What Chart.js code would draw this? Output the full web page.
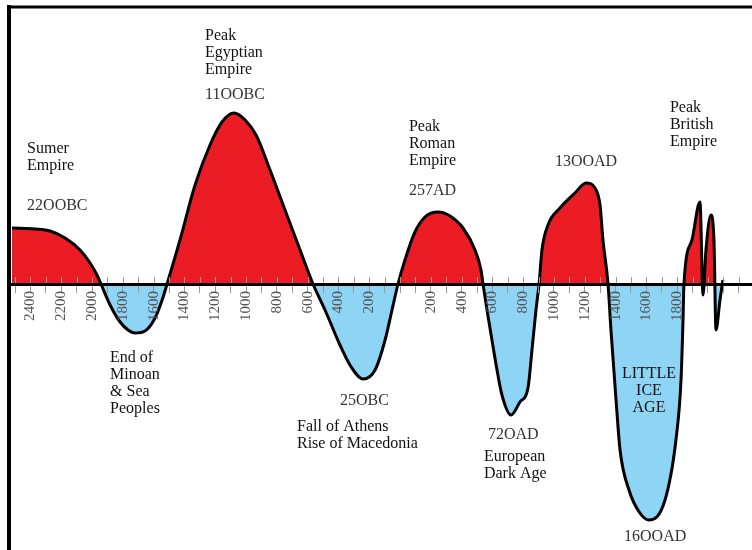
<!DOCTYPE html>
<html>
<head>
<meta charset="utf-8">
<script src="https://cdn.jsdelivr.net/npm/chart.js@4.4.1/dist/chart.umd.min.js"></script>
<style>
  html, body { margin: 0; padding: 0; background: #fff; overflow: hidden; }
  canvas { display: block; }
</style>
</head>
<body>
<canvas id="chart" width="752" height="550"></canvas>
<script>
// years (BC negative) and the relative value
const years = [-2520, -2370, -2273, -2175, -2078, -2013, -1968, -1942, -1883, -1818, -1766, -1721, -1656, -1591, -1545, -1513,
  -1429, -1331, -1234, -1156, -1078, -1006, -935, -844, -747, -649, -565,
  -487, -390, -325, -240, -162, -97, -52, -13,
  32, 97, 162, 247, 325, 409, 487, 526, 539,
  565, 597, 630, 662, 721, 779, 831, 857, 883, 903,
  922, 961, 1039, 1136, 1208, 1266, 1299, 1318, 1351,
  1370, 1403, 1429, 1487, 1558, 1617, 1721, 1792, 1825, 1838, 1844,
  1896, 1948, 1968, 1987, 2019, 2039, 2052, 2078, 2097];
const values = [56, 55, 53, 46, 34, 21, 9, 0, -21, -38, -46, -49, -47, -34, -16, 0,
  44, 99, 139, 162, 171, 164, 149, 114, 74, 34, 0,
  -26, -61, -81, -95, -86, -56, -26, 0,
  24, 52, 67, 72, 68, 56, 34, 14, 0,
  -26, -56, -86, -111, -131, -118, -104, -66, -26, 0,
  34, 59, 76, 91, 101, 96, 79, 44, 0,
  -46, -116, -166, -206, -229, -236, -216, -156, -96, -36, 0,
  44, 82, -11, 34, 69, 44, -46, -16, 4];

// tick marks every century, labels every two
const tickYears = [-2500, -2400, -2300, -2200, -2100, -2000, -1900, -1800, -1700, -1600, -1500, -1400, -1300,
  -1200, -1100, -1000, -900, -800, -700, -600, -500, -400, -300, -200, -100, 0,
  100, 200, 300, 400, 500, 600, 700, 800, 900, 1000, 1100, 1200, 1300, 1400, 1500, 1600, 1700,
  1800, 1900, 2000, 2100, 2200];
const labelYears = [-2400, -2200, -2000, -1800, -1600, -1400, -1200, -1000, -800, -600, -400, -200,
  200, 400, 600, 800, 1000, 1200, 1400, 1600, 1800];

// notes: text lines anchored at (year, value)
const notes = [
  { lines: ["Sumer", "Empire"], year: -2422, value: 135 },
  { lines: ["22OOBC"], year: -2422, value: 78, grey: true },
  { lines: ["Peak", "Egyptian", "Empire"], year: -1266, value: 248 },
  { lines: ["11OOBC"], year: -1266, value: 189, grey: true },
  { lines: ["Peak", "Roman", "Empire"], year: 58, value: 157 },
  { lines: ["257AD"], year: 58, value: 93, grey: true },
  { lines: ["13OOAD"], year: 1006, value: 122, grey: true },
  { lines: ["Peak", "British", "Empire"], year: 1753, value: 176 },
  { lines: ["End of", "Minoan", "& Sea", "Peoples"], year: -1883, value: -74 },
  { lines: ["25OBC"], year: -390, value: -117, grey: true },
  { lines: ["Fall of Athens", "Rise of Macedonia"], year: -669, value: -143 },
  { lines: ["72OAD"], year: 571, value: -151, grey: true },
  { lines: ["European", "Dark Age"], year: 545, value: -173 },
  { lines: ["LITTLE", "ICE", "AGE"], year: 1617, value: -90, center: true },
  { lines: ["16OOAD"], year: 1455, value: -253, grey: true }
];

const points = years.map((y, i) => ({ x: y, y: values[i] }));

const notesPlugin = {
  id: "notes",
  afterDatasetsDraw(chart) {
    const ctx = chart.ctx;
    const xs = chart.scales.x, ys = chart.scales.y;
    const zero = ys.getPixelForValue(0);
    ctx.save();
    // tick marks poking above the axis
    ctx.strokeStyle = "#999";
    ctx.lineWidth = 1;
    tickYears.forEach(t => {
      const px = Math.round(xs.getPixelForValue(t)) + 0.5;
      ctx.beginPath();
      ctx.moveTo(px, zero - 7);
      ctx.lineTo(px, zero);
      ctx.stroke();
    });
    ctx.restore();
  },
  afterDraw(chart) {
    const ctx = chart.ctx;
    const xs = chart.scales.x, ys = chart.scales.y;
    ctx.save();
    ctx.font = "16px 'Liberation Serif'";
    ctx.textBaseline = "middle";
    notes.forEach(n => {
      const px = xs.getPixelForValue(n.year);
      const py = ys.getPixelForValue(n.value);
      ctx.fillStyle = n.grey ? "#333" : "#111";
      ctx.textAlign = n.center ? "center" : "left";
      n.lines.forEach((t, i) => ctx.fillText(t, px, py + i * 17));
    });
    // frame: left and top borders
    const a = chart.chartArea;
    ctx.strokeStyle = "#000";
    ctx.lineWidth = 4;
    ctx.beginPath();
    ctx.moveTo(a.left - 3, a.top - 4);
    ctx.lineTo(a.left - 3, a.bottom);
    ctx.stroke();
    ctx.lineWidth = 3;
    ctx.beginPath();
    ctx.moveTo(a.left - 5, a.top - 2);
    ctx.lineTo(a.right, a.top - 2);
    ctx.stroke();
    ctx.restore();
  }
};

new Chart(document.getElementById("chart"), {
  type: "line",
  data: {
    datasets: [{
      data: points,
      borderColor: "#000",
      borderWidth: 3,
      pointRadius: 0,
      cubicInterpolationMode: "monotone",
      fill: { target: "origin", above: "#ec1c24", below: "#8dd4f5" }
    }]
  },
  options: {
    responsive: false,
    animation: false,
    layout: { padding: { left: 12, top: 9, right: 0, bottom: 0 } },
    plugins: { legend: { display: false }, tooltip: { enabled: false } },
    scales: {
      x: {
        type: "linear",
        position: { y: 0 },
        min: -2520,
        max: 2286,
        afterBuildTicks: scale => { scale.ticks = tickYears.map(v => ({ value: v })); },
        afterFit: scale => { scale.paddingLeft = 0; scale.paddingRight = 0; },
        border: { display: true, color: "#000", width: 3, z: 1 },
        grid: { drawOnChartArea: false, drawTicks: true, tickLength: 7, color: "#999", z: 1 },
        ticks: {
          z: 1,
          autoSkip: false,
          minRotation: 90,
          maxRotation: 90,
          padding: 0,
          color: "#555",
          font: { family: "'Liberation Serif'", size: 15 },
          callback: v => labelYears.includes(v) ? String(Math.abs(v)) : ""
        }
      },
      y: { display: false, min: -266, max: 275 }
    }
  },
  plugins: [notesPlugin]
});
</script>
</body>
</html>
